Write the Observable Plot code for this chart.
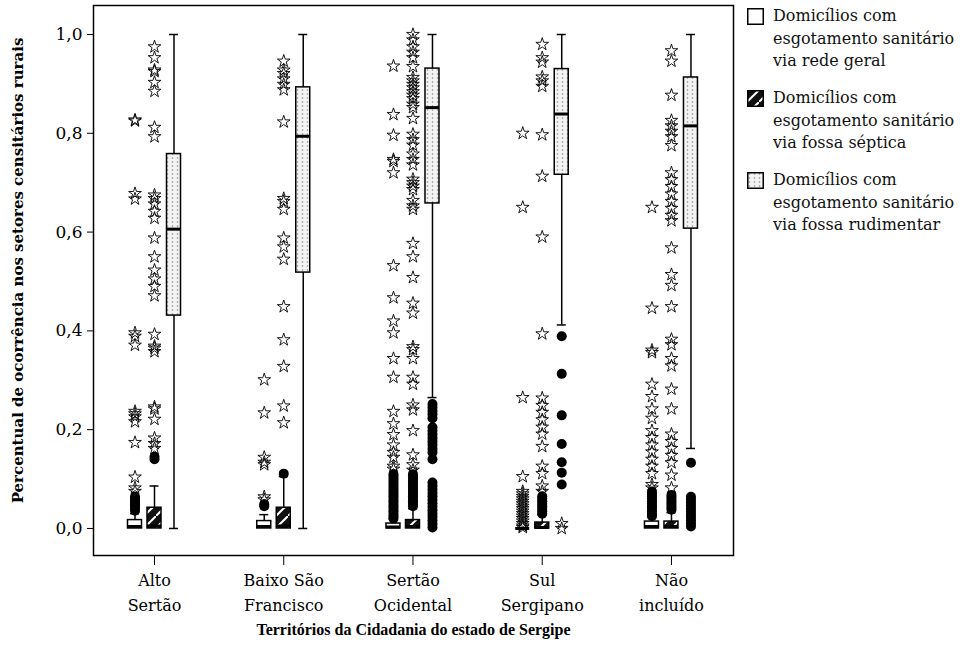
<!DOCTYPE html>
<html><head><meta charset="utf-8">
<script src="https://cdn.jsdelivr.net/npm/d3@7"></script>
<script src="https://cdn.jsdelivr.net/npm/@observablehq/plot@0.6"></script>
<style>
body{margin:0;background:#fff;font-family:"DejaVu Serif",serif;color:#111}
#wrap{position:relative;width:962px;height:671px;}
#chart{position:absolute;left:0;top:0;}
#legend{position:absolute;left:747px;top:5px;font-size:16px;line-height:22.5px;}
.item{display:flex;align-items:flex-start;margin-bottom:14.5px}
.item svg{flex:none;margin-top:3px;margin-right:9px}
</style></head><body>
<div id="wrap"><div id="chart"></div><div id="legend"></div></div>
<script>
// ---------- data ----------
const territories = ["Alto Sertão", "Baixo São Francisco", "Sertão Ocidental", "Sul Sergipano", "Não incluído"];
const tickLabels = ["Alto\nSertão", "Baixo São\nFrancisco", "Sertão\nOcidental", "Sul\nSergipano", "Não\nincluído"];
const seriesLabels = [
  "Domicílios com\nesgotamento sanitário\nvia rede geral",
  "Domicílios com\nesgotamento sanitário\nvia fossa séptica",
  "Domicílios com\nesgotamento sanitário\nvia fossa rudimentar"
];
const yTicks = [0, 0.2, 0.4, 0.6, 0.8, 1.0];
const yTitle = "Percentual de ocorrência nos setores censitários rurais";
const xTitle = "Territórios da Cidadania do estado de Sergipe";

// rede geral
const redeQ1 = [0, 0, 0, 0, 0];
const redeMed = [0.004, 0.004, 0.003, 0, 0.004];
const redeQ3 = [0.017, 0.015, 0.01, 0, 0.014];
const redeLo = [0, 0, 0, 0, 0];
const redeHi = [0.03, 0.028, 0.02, 0, 0.028];
const redeCircles = [
  [0.064, 0.06, 0.056, 0.052, 0.048, 0.044, 0.04, 0.036],
  [0.049, 0.045],
  [0.11, 0.105, 0.1, 0.095, 0.09, 0.085, 0.08, 0.075, 0.07, 0.065, 0.06, 0.055, 0.05, 0.045, 0.04, 0.035, 0.03, 0.025, 0.02],
  [],
  [0.075, 0.07, 0.065, 0.06, 0.055, 0.05, 0.045, 0.04, 0.035, 0.03, 0.025]
];
const redeStars = [
  [0.827, 0.825, 0.678, 0.667, 0.396, 0.389, 0.371, 0.237, 0.232, 0.226, 0.216, 0.174, 0.104, 0.082, 0.075],
  [0.301, 0.234, 0.144, 0.134, 0.129, 0.064, 0.058],
  [0.936, 0.838, 0.796, 0.747, 0.743, 0.72, 0.532, 0.467, 0.42, 0.396, 0.344, 0.306, 0.237, 0.212, 0.19, 0.169, 0.154, 0.144, 0.126, 0.12],
  [0.8, 0.65, 0.265, 0.105, 0.075, 0.07, 0.065, 0.06, 0.055, 0.05, 0.045, 0.04, 0.035, 0.03, 0.025, 0.02, 0.015, 0.01, 0.005, 0.002],
  [0.65, 0.446, 0.361, 0.356, 0.292, 0.267, 0.242, 0.223, 0.198, 0.184, 0.169, 0.155, 0.14, 0.126, 0.111, 0.089, 0.082]
];

// fossa séptica
const septQ1 = [0, 0, 0, 0, 0];
const septMed = [0.005, 0.005, 0.004, 0.002, 0.004];
const septQ3 = [0.042, 0.042, 0.017, 0.012, 0.014];
const septLo = [0, 0, 0, 0, 0];
const septHi = [0.086, 0.105, 0.04, 0.028, 0.032];
const septCircles = [
  [0.14, 0.145],
  [0.111],
  [0.11, 0.105, 0.1, 0.095, 0.09, 0.085, 0.08, 0.075, 0.07, 0.065, 0.06, 0.055, 0.05, 0.045],
  [0.065, 0.06, 0.055, 0.05, 0.045, 0.04, 0.035, 0.03],
  [0.068, 0.063, 0.058, 0.053, 0.048, 0.043, 0.038]
];
const septStars = [
  [0.975, 0.953, 0.928, 0.925, 0.903, 0.885, 0.812, 0.793, 0.675, 0.668, 0.657, 0.642, 0.628, 0.588, 0.55, 0.523, 0.505, 0.49, 0.471, 0.393, 0.369, 0.365, 0.358, 0.246, 0.242, 0.221, 0.183, 0.172, 0.162],
  [0.946, 0.928, 0.921, 0.91, 0.899, 0.888, 0.823, 0.668, 0.662, 0.646, 0.588, 0.57, 0.545, 0.449, 0.382, 0.328, 0.248, 0.214],
  [1.0, 0.989, 0.975, 0.964, 0.953, 0.935, 0.913, 0.906, 0.899, 0.892, 0.884, 0.877, 0.87, 0.859, 0.852, 0.83, 0.798, 0.787, 0.776, 0.758, 0.747, 0.736, 0.707, 0.7, 0.693, 0.686, 0.664, 0.653, 0.646, 0.577, 0.55, 0.508, 0.456, 0.436, 0.368, 0.362, 0.344, 0.306, 0.292, 0.25, 0.24, 0.198, 0.149, 0.129, 0.118],
  [0.98, 0.953, 0.944, 0.914, 0.906, 0.895, 0.797, 0.713, 0.59, 0.394, 0.264, 0.249, 0.235, 0.22, 0.205, 0.191, 0.166, 0.126, 0.111, 0.086, 0.075],
  [0.967, 0.946, 0.877, 0.826, 0.815, 0.804, 0.793, 0.775, 0.72, 0.706, 0.692, 0.677, 0.662, 0.648, 0.634, 0.623, 0.568, 0.514, 0.492, 0.449, 0.383, 0.372, 0.344, 0.329, 0.282, 0.242, 0.191, 0.176, 0.162, 0.148, 0.133, 0.108, 0.082]
];

// fossa rudimentar
const rudQ1 = [0.431, 0.518, 0.658, 0.716, 0.607];
const rudMed = [0.606, 0.794, 0.852, 0.839, 0.815];
const rudQ3 = [0.758, 0.893, 0.931, 0.93, 0.913];
const rudLo = [0, 0, 0.265, 0.412, 0.162];
const rudHi = [1, 1, 1, 1, 1];
const rudCircles = [
  [],
  [],
  [0.252, 0.245, 0.238, 0.231, 0.223, 0.205, 0.198, 0.19, 0.183, 0.176, 0.169, 0.161, 0.154, 0.14, 0.093, 0.086, 0.079, 0.072, 0.065, 0.058, 0.051, 0.044, 0.037, 0.03, 0.023, 0.016, 0.009, 0.002],
  [0.389, 0.313, 0.229, 0.171, 0.134, 0.113, 0.089],
  [0.133, 0.064, 0.058, 0.052, 0.046, 0.04, 0.034, 0.028, 0.022, 0.016, 0.01, 0.004]
];
const rudStars = [[], [], [], [0.01, 0.0], []];

// ---------- layout ----------
const W = 740, H = 650;
const mL = 93, mR = 7, mT = 5, mB = 95;
const xDomain = [-0.472, 4.48];
const yDomain = [-0.0547, 1.0587];
const pxPerUnit = (W - mL - mR) / (xDomain[1] - xDomain[0]);
const offsetPx = [-19.5, 0, 19.5];
const boxHalf = 7 / pxPerUnit, capHalf = 4.5 / pxPerUnit;
const fills = ["white", "url(#pSept)", "url(#pRud)"];

const stats = [
  {q1: redeQ1, med: redeMed, q3: redeQ3, lo: redeLo, hi: redeHi, circles: redeCircles, stars: redeStars},
  {q1: septQ1, med: septMed, q3: septQ3, lo: septLo, hi: septHi, circles: septCircles, stars: septStars},
  {q1: rudQ1, med: rudMed, q3: rudQ3, lo: rudLo, hi: rudHi, circles: rudCircles, stars: rudStars}
];
const boxes = [[], [], []], circles = [], stars = [];
stats.forEach((s, si) => territories.forEach((t, ti) => {
  const x = ti + offsetPx[si] / pxPerUnit;
  boxes[si].push({x, q1: s.q1[ti], med: s.med[ti], q3: s.q3[ti], lo: s.lo[ti], hi: s.hi[ti]});
  s.circles[ti].forEach(v => circles.push({x, y: v}));
  s.stars[ti].forEach(v => stars.push({x, y: v}));
}));
const allBoxes = boxes.flat();

const marks = [
  Plot.ruleX(allBoxes, {x: "x", y1: "lo", y2: "hi", stroke: "black", strokeWidth: 1.5}),
  Plot.ruleY(allBoxes.filter(d => d.hi > d.q3), {y: "hi", x1: d => d.x - capHalf, x2: d => d.x + capHalf, stroke: "black", strokeWidth: 1.5}),
  Plot.ruleY(allBoxes.filter(d => d.lo < d.q1), {y: "lo", x1: d => d.x - capHalf, x2: d => d.x + capHalf, stroke: "black", strokeWidth: 1.5}),
  ...boxes.map((b, si) => Plot.rect(b, {x1: d => d.x - boxHalf, x2: d => d.x + boxHalf, y1: "q1", y2: "q3", fill: fills[si], stroke: "black", strokeWidth: 1.5})),
  Plot.ruleY(allBoxes, {y: "med", x1: d => d.x - boxHalf, x2: d => d.x + boxHalf, stroke: "black", strokeWidth: 3}),
  Plot.dot(circles, {x: "x", y: "y", r: 5, fill: "black", stroke: "none"}),
  Plot.dot(stars, {x: "x", y: "y", symbol: "star", r: 4, fill: "none", stroke: "black", strokeWidth: 0.9}),
  Plot.frame({stroke: "black", strokeWidth: 1.5}),
  Plot.axisY({ticks: yTicks, tickFormat: d => d3.format(".1f")(d).replace(".", ","), tickSize: 6, tickPadding: 5, fontSize: 17, label: null}),
  Plot.axisX({ticks: d3.range(territories.length), tickFormat: i => tickLabels[i], tickSize: 10, tickPadding: 3, fontSize: 16, lineHeight: 1.55, label: null}),
  Plot.text([yTitle], {frameAnchor: "left", rotate: -90, dx: -75, dy: -10, textAnchor: "middle", fontFamily: "DejaVu Serif", fontWeight: "bold", fontSize: 15, fill: "black"}),
  Plot.text([xTitle], {frameAnchor: "bottom", dy: 74, lineAnchor: "middle", fontFamily: "Liberation Serif", fontWeight: "bold", fontSize: 16, fill: "black"})
];

const chart = Plot.plot({
  width: W, height: H,
  marginLeft: mL, marginRight: mR, marginTop: mT, marginBottom: mB,
  x: {domain: xDomain, axis: null},
  y: {domain: yDomain, axis: null},
  style: {fontFamily: "DejaVu Serif", fontSize: "16px", color: "black", background: "white"},
  marks
});

const defsMarkup = `
<pattern id="pSept" patternUnits="userSpaceOnUse" width="12" height="12">
  <rect width="12" height="12" fill="#111"/>
  <path d="M-1,13 L13,-1" stroke="white" stroke-width="2"/>
</pattern>
<pattern id="pRud" patternUnits="userSpaceOnUse" width="5" height="4">
  <rect width="5" height="4" fill="#f3f3f3"/>
  <circle cx="2.5" cy="2" r="0.8" fill="#8a8a8a"/>
</pattern>`;
const defs = document.createElementNS("http://www.w3.org/2000/svg", "defs");
defs.innerHTML = defsMarkup;
chart.insertBefore(defs, chart.firstChild);
document.getElementById("chart").appendChild(chart);

// legend
const legend = document.getElementById("legend");
seriesLabels.forEach((lab, si) => {
  const item = document.createElement("div");
  item.className = "item";
  item.innerHTML = `<svg width="17" height="17"><rect x="0.75" y="0.75" width="15.5" height="15.5" fill="${fills[si]}" stroke="black" stroke-width="1.5"/></svg><div>${lab.split("\n").join("<br>")}</div>`;
  legend.appendChild(item);
});
</script>
</body></html>
